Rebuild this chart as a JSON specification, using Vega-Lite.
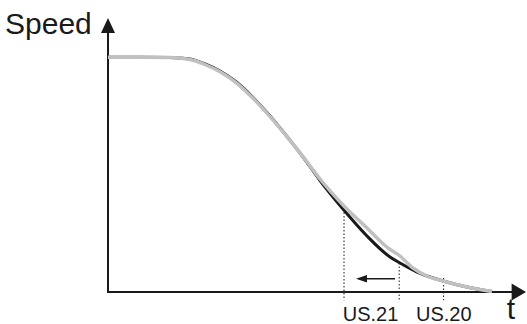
{
  "$schema": "https://vega.github.io/schema/vega-lite/v6.json",
  "width": 527,
  "height": 324,
  "autosize": {"type": "none"},
  "padding": 0,
  "background": "white",
  "config": {"view": {"stroke": null}},
  "datasets": {
    "curves": [
      {"series": "black", "t": 0, "s": 100},
      {"series": "black", "t": 0.8, "s": 100},
      {"series": "black", "t": 1.55, "s": 99.95},
      {"series": "black", "t": 2.05, "s": 99.28},
      {"series": "black", "t": 2.425, "s": 97.14},
      {"series": "black", "t": 2.8, "s": 94.16},
      {"series": "black", "t": 3.225, "s": 89.26},
      {"series": "black", "t": 3.625, "s": 82.87},
      {"series": "black", "t": 4.05, "s": 74.99},
      {"series": "black", "t": 4.475, "s": 66.25},
      {"series": "black", "t": 4.875, "s": 57.52},
      {"series": "black", "t": 5.3, "s": 47.51},
      {"series": "black", "t": 5.875, "s": 35.36},
      {"series": "black", "t": 6.475, "s": 23.86},
      {"series": "black", "t": 7.05, "s": 14.91},
      {"series": "black", "t": 7.3, "s": 12.36},
      {"series": "black", "t": 7.725, "s": 8.52},
      {"series": "black", "t": 8.05, "s": 6.39},
      {"series": "black", "t": 8.375, "s": 4.69},
      {"series": "black", "t": 8.975, "s": 2.13},
      {"series": "black", "t": 9.6, "s": 0.21},
      {"series": "gray", "t": 0, "s": 100},
      {"series": "gray", "t": 0.8, "s": 100},
      {"series": "gray", "t": 1.55, "s": 99.95},
      {"series": "gray", "t": 2.05, "s": 99.06},
      {"series": "gray", "t": 2.425, "s": 96.93},
      {"series": "gray", "t": 2.8, "s": 93.86},
      {"series": "gray", "t": 3.225, "s": 88.92},
      {"series": "gray", "t": 3.625, "s": 82.53},
      {"series": "gray", "t": 4.05, "s": 74.69},
      {"series": "gray", "t": 4.475, "s": 66.17},
      {"series": "gray", "t": 4.875, "s": 57.65},
      {"series": "gray", "t": 5.3, "s": 48.15},
      {"series": "gray", "t": 5.875, "s": 37.07},
      {"series": "gray", "t": 6.475, "s": 27.27},
      {"series": "gray", "t": 6.975, "s": 19.17},
      {"series": "gray", "t": 7.3, "s": 15.34},
      {"series": "gray", "t": 7.625, "s": 10.23},
      {"series": "gray", "t": 7.975, "s": 6.82},
      {"series": "gray", "t": 8.375, "s": 4.69},
      {"series": "gray", "t": 8.975, "s": 2.13},
      {"series": "gray", "t": 9.6, "s": 0.21}
    ],
    "axes": [
      {"t": 0, "s": 0, "t2": 0, "s2": 110.35},
      {"t": 0, "s": 0, "t2": 10.1, "s2": 0}
    ],
    "markers": [
      {"t": 5.9, "s": 35.36, "t2": 5.9, "s2": -3.5},
      {"t": 7.28, "s": 12.36, "t2": 7.28, "s2": -3.5},
      {"t": 8.39, "s": 5.97, "t2": 8.39, "s2": -3.5}
    ],
    "shift": [
      {"t": 6.35, "s": 5.67, "t2": 7.175, "s2": 5.67}
    ],
    "heads": [
      {"dir": "up", "t": 0, "s": 116.75},
      {"dir": "right", "t": 10.45, "s": 0},
      {"dir": "left", "t": 6.2, "s": 5.67}
    ],
    "labels": [
      {"label": "Speed", "t": -2.575, "s": 109.93, "role": "axis-left"},
      {"label": "t", "t": 10.075, "s": -11.29, "role": "axis-center"},
      {"label": "US.21", "t": 6.5625, "s": -12.14, "role": "marker"},
      {"label": "US.20", "t": 8.395, "s": -12.14, "role": "marker"}
    ]
  },
  "encoding": {
    "x": {"field": "t", "type": "quantitative", "scale": {"domain": [-2.7, 10.475], "nice": false, "zero": false}, "axis": null},
    "y": {"field": "s", "type": "quantitative", "scale": {"domain": [-13.63, 124.41], "nice": false, "zero": false}, "axis": null}
  },
  "layer": [
    {
      "data": {"name": "axes"},
      "mark": {"type": "rule", "color": "#1a1a1a", "strokeWidth": 2, "strokeCap": "square"},
      "encoding": {"x2": {"field": "t2"}, "y2": {"field": "s2"}}
    },
    {
      "data": {"name": "markers"},
      "mark": {"type": "rule", "color": "#1a1a1a", "strokeWidth": 1, "strokeDash": [1.5, 2]},
      "encoding": {"x2": {"field": "t2"}, "y2": {"field": "s2"}}
    },
    {
      "data": {"name": "shift"},
      "mark": {"type": "rule", "color": "#1a1a1a", "strokeWidth": 1.4},
      "encoding": {"x2": {"field": "t2"}, "y2": {"field": "s2"}}
    },
    {
      "data": {"name": "curves"},
      "transform": [{"filter": "datum.series === 'black'"}],
      "mark": {"type": "line", "color": "#1a1a1a", "strokeWidth": 3, "interpolate": "monotone"},
      "encoding": {}
    },
    {
      "data": {"name": "curves"},
      "transform": [{"filter": "datum.series === 'gray'"}],
      "mark": {"type": "line", "color": "#c0c0c0", "strokeWidth": 3.5, "interpolate": "monotone"},
      "encoding": {}
    },
    {
      "data": {"name": "heads"},
      "transform": [{"filter": "datum.dir === 'up'"}],
      "mark": {"type": "point", "filled": true, "color": "#1a1a1a", "opacity": 1, "strokeWidth": 0, "size": 256, "shape": "M0,0L-0.875,1.875L0.875,1.875Z"}
    },
    {
      "data": {"name": "heads"},
      "transform": [{"filter": "datum.dir === 'right'"}],
      "mark": {"type": "point", "filled": true, "color": "#1a1a1a", "opacity": 1, "strokeWidth": 0, "size": 256, "shape": "M0,0L-1.8,-1.05L-1.8,1.05Z"}
    },
    {
      "data": {"name": "heads"},
      "transform": [{"filter": "datum.dir === 'left'"}],
      "mark": {"type": "point", "filled": true, "color": "#1a1a1a", "opacity": 1, "strokeWidth": 0, "size": 64, "shape": "M0,0L2.75,-0.95L2.75,0.95Z"}
    },
    {
      "data": {"name": "labels"},
      "transform": [{"filter": "datum.role === 'axis-left'"}],
      "mark": {"type": "text", "font": "Liberation Sans", "fontSize": 30, "align": "left", "baseline": "alphabetic", "color": "#1a1a1a"},
      "encoding": {"text": {"field": "label"}}
    },
    {
      "data": {"name": "labels"},
      "transform": [{"filter": "datum.role === 'axis-center'"}],
      "mark": {"type": "text", "font": "Liberation Sans", "fontSize": 30, "align": "center", "baseline": "alphabetic", "color": "#1a1a1a"},
      "encoding": {"text": {"field": "label"}}
    },
    {
      "data": {"name": "labels"},
      "transform": [{"filter": "datum.role === 'marker'"}],
      "mark": {"type": "text", "font": "Liberation Sans", "fontSize": 20, "align": "center", "baseline": "alphabetic", "color": "#1a1a1a"},
      "encoding": {"text": {"field": "label"}}
    }
  ]
}
